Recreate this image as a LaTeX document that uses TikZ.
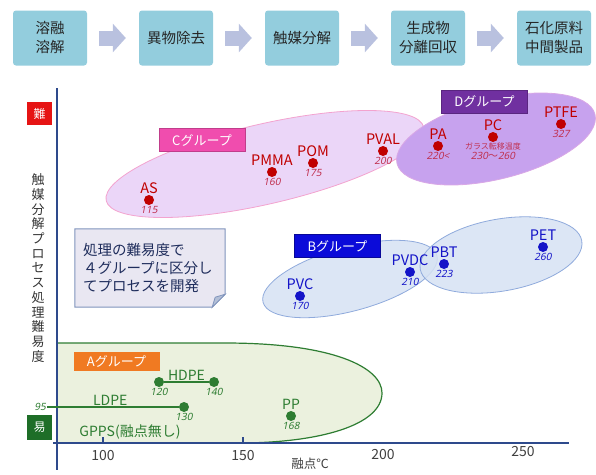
\documentclass[tikz,border=0pt]{standalone}
\usepackage{fontspec}
\setmainfont{Noto Sans CJK JP}
\newfontfamily\numfont[FakeSlant=0.2]{Noto Sans}
\usetikzlibrary{positioning,arrows.meta,shapes.geometric}

\definecolor{stepcol}{HTML}{93CDDD}
\definecolor{flowcol}{HTML}{B9C1DF}
\definecolor{axiscol}{HTML}{2E4A8C}
\definecolor{colA}{HTML}{2E7D32}
\definecolor{colAfill}{HTML}{EBF1DE}
\definecolor{colB}{HTML}{1414C8}
\definecolor{colBfill}{HTML}{D6E2F3}
\definecolor{colBline}{HTML}{8FAADC}
\definecolor{colC}{HTML}{C00000}
\definecolor{colCval}{HTML}{C0304F}
\definecolor{colCfill}{HTML}{EBD6F8}
\definecolor{colCline}{HTML}{F3A3CF}
\definecolor{colDfill}{HTML}{C7A2EE}
\definecolor{colDline}{HTML}{D9A8E6}
\definecolor{boxA}{HTML}{F07A22}
\definecolor{boxB}{HTML}{0B0BD9}
\definecolor{boxC}{HTML}{F04DAE}
\definecolor{boxD}{HTML}{7030A0}
\definecolor{hardcol}{HTML}{E61414}
\definecolor{easycol}{HTML}{1E6E28}
\definecolor{memofill}{HTML}{E9E7F2}
\definecolor{memoline}{HTML}{8094BC}
\definecolor{memotext}{HTML}{1F2D5C}

\begin{document}
\begin{tikzpicture}[x=1pt,y=-1pt,
  stepbox/.style={fill=stepcol, rounded corners=3pt, minimum width=74pt, minimum height=55pt,
    align=center, text=black!85, font=\fontsize{14.5}{19}\selectfont},
  flow/.style={draw=flowcol, line width=15pt, -{Triangle[length=13pt,width=28pt]},
    shorten <=12pt, shorten >=13pt},
  grpbox/.style={minimum width=86pt, minimum height=23pt, inner sep=0pt, text=white,
    font=\fontsize{13}{15}\selectfont},
  dotA/.style={circle, fill=colA, inner sep=0pt, minimum size=10pt},
  dotB/.style={circle, fill=colB, inner sep=0pt, minimum size=10pt},
  dotC/.style={circle, fill=colC, inner sep=0pt, minimum size=10pt},
  nameA/.style={text=colA, inner sep=1pt, font=\fontsize{14}{16}\selectfont},
  nameB/.style={text=colB, inner sep=1pt, font=\fontsize{14.5}{16}\selectfont},
  nameC/.style={text=colC, inner sep=1pt, font=\fontsize{14.5}{16}\selectfont},
  valA/.style={text=colA, inner sep=1pt, font=\numfont\fontsize{10}{12}\selectfont},
  valB/.style={text=colB, inner sep=1pt, font=\numfont\fontsize{10}{12}\selectfont},
  valC/.style={text=colCval, inner sep=1pt, font=\numfont\fontsize{10}{12}\selectfont},
  axis/.style={draw=axiscol, line width=1.3pt},
  ticklbl/.style={text=black!75, font=\fontsize{14}{16}\selectfont}
]
\useasboundingbox (0,0) rectangle (596,474);

% process steps
\node[stepbox] (s1) at (50,38) {溶融\\溶解};
\node[stepbox] (s2) at (176,38) {異物除去};
\node[stepbox] (s3) at (302,38) {触媒分解};
\node[stepbox] (s4) at (428,38) {生成物\\分離回収};
\node[stepbox] (s5) at (554,38) {石化原料\\中間製品};
\draw[flow] (s1) -- (s2);
\draw[flow] (s2) -- (s3);
\draw[flow] (s3) -- (s4);
\draw[flow] (s4) -- (s5);

% group areas
\node[ellipse, fill=colCfill, draw=colCline, line width=0.8pt, inner sep=0pt,
  minimum width=326pt, minimum height=80pt, rotate=13] (areaC) at (265,164) {};
\node[ellipse, fill=colDfill, draw=colDline, line width=0.8pt, inner sep=0pt,
  minimum width=204pt, minimum height=80pt, rotate=14] (areaD) at (496,139) {};
\node[ellipse, fill=colBfill, fill opacity=0.85, draw=colBline, line width=0.8pt, inner sep=0pt,
  minimum width=180pt, minimum height=64pt, rotate=15] (areaB1) at (350,279) {};
\node[ellipse, fill=colBfill, fill opacity=0.85, draw=colBline, line width=0.8pt, inner sep=0pt,
  minimum width=164pt, minimum height=72pt, rotate=10] (areaB2) at (501,255) {};
\draw[fill=colAfill, draw=colA, line width=1.2pt]
  (57,343) -- (225,343) .. controls (335,343) and (382,368) .. (382,393)
  .. controls (382,425) and (320,443) .. (238,443) -- (57,443) -- cycle;

% axes
\draw[axis] (57,88) -- (57,470);
\draw[axis] (53,443) -- (569,443);
\draw[axis] (103,443) -- (103,437);
\draw[axis] (243,443) -- (243,437);
\node[ticklbl] (t100) at (103,455) {100};
\node[ticklbl] (t150) at (243,455) {150};
\node[ticklbl] (t200) at (383,454) {200};
\node[ticklbl] (t250) at (523,451) {250};
\node[ticklbl, font=\fontsize{12.5}{14}\selectfont] (xlabel) at (310,464) {融点℃};
\node[fill=hardcol, text=white, minimum width=25pt, minimum height=23pt, inner sep=0pt,
  font=\fontsize{12}{14}\selectfont] (hard) at (39.5,113.5) {難};
\node[fill=easycol, text=white, minimum width=25pt, minimum height=25pt, inner sep=0pt,
  font=\fontsize{12}{14}\selectfont] (easy) at (39.5,427.5) {易};
\node[align=center, inner sep=0pt, text=black!80, font=\fontsize{13}{14.7}\selectfont] (ylabel) at (38,268)
  {触\\媒\\分\\解\\プ\\ロ\\セ\\ス\\処\\理\\難\\易\\度};

% group titles
\node[grpbox, fill=boxA, minimum height=19pt] (titleA) at (116.5,361) {Aグループ};
\node[grpbox, fill=boxB, draw=boxB!70!black] (titleB) at (337.5,246) {Bグループ};
\node[grpbox, fill=boxC, draw=boxC!80!black] (titleC) at (202,140) {Cグループ};
\node[grpbox, fill=boxD, draw=boxD!80!black] (titleD) at (484.5,101.5) {Dグループ};

% note
\node[minimum width=150pt, minimum height=78pt, inner sep=0pt] (memo) at (150,268) {};
\draw[draw=memoline, line width=1pt, fill=memofill]
  (memo.north west) -- (memo.north east) -- ([yshift=13pt]memo.south east)
  -- ([xshift=-13pt]memo.south east) -- (memo.south west) -- cycle;
\draw[draw=memoline, line width=0.8pt, fill=memoline!60]
  ([yshift=13pt]memo.south east) -- ([xshift=-13pt]memo.south east)
  -- ([xshift=-10pt,yshift=10pt]memo.south east) -- cycle;
\node[text width=134pt, align=left, text=memotext, font=\fontsize{14.5}{18}\selectfont] (memotxt) at (memo)
  {処理の難易度で\\４グループに区分し\\てプロセスを開発};

% C group
\node[dotC] (as) at (149,200) {};
\node[nameC, above=0pt of as] (asname) {AS};
\node[valC, below=0pt of as] (asval) {115};
\node[dotC] (pmma) at (272,172) {};
\node[nameC, above=0pt of pmma] (pmmaname) {PMMA};
\node[valC, below=0pt of pmma] (pmmaval) {160};
\node[dotC] (pom) at (313,163) {};
\node[nameC, above=0pt of pom] (pomname) {POM};
\node[valC, below=0pt of pom] (pomval) {175};
\node[dotC] (pval) at (383,151) {};
\node[nameC, above=0pt of pval] (pvalname) {PVAL};
\node[valC, below=0pt of pval] (pvalval) {200};

% D group
\node[dotC] (pa) at (438,146) {};
\node[nameC, above=0pt of pa] (paname) {PA};
\node[valC, below=0pt of pa] (paval) {220<};
\node[dotC] (pc) at (493,137) {};
\node[nameC, above=0pt of pc] (pcname) {PC};
\node[text=colCval, inner sep=0.5pt, font=\fontsize{8}{9}\selectfont, below=0pt of pc] (pcnote) {ガラス転移温度};
\node[valC, below=0pt of pcnote] (pcval) {230{\rmfamily ～}260};
\node[dotC] (ptfe) at (561,124) {};
\node[nameC, above=0pt of ptfe] (ptfename) {PTFE};
\node[valC, below=0pt of ptfe] (ptfeval) {327};

% B group
\node[dotB] (pvc) at (300,296) {};
\node[nameB, above=0pt of pvc] (pvcname) {PVC};
\node[valB, below=0pt of pvc] (pvcval) {170};
\node[dotB] (pvdc) at (410,272) {};
\node[nameB, above=0pt of pvdc] (pvdcname) {PVDC};
\node[valB, below=0pt of pvdc] (pvdcval) {210};
\node[dotB] (pbt) at (444,264) {};
\node[nameB, above=0pt of pbt] (pbtname) {PBT};
\node[valB, below=0pt of pbt] (pbtval) {223};
\node[dotB] (pet) at (543,247) {};
\node[nameB, above=0pt of pet] (petname) {PET};
\node[valB, below=0pt of pet] (petval) {260};

% A group
\node[dotA] (hdpelo) at (159,382) {};
\node[valA, below=0pt of hdpelo] (hdpeloval) {120};
\node[dotA] (hdpehi) at (214,382) {};
\node[valA, below=0pt of hdpehi] (hdpehival) {140};
\draw[colA, line width=1.2pt] (hdpelo) -- node[nameA, above=0pt] (hdpename) {HDPE} (hdpehi);
\coordinate (l95) at (47,407);
\node[valA, left=0pt of l95] (l95val) {95};
\node[dotA] (ldpe) at (184,407) {};
\node[valA, below=0pt of ldpe] (ldpeval) {130};
\draw[colA, line width=1.2pt] (l95) -- node[nameA, pos=0.48, above=0pt] (ldpename) {LDPE} (ldpe);
\node[dotA] (pp) at (291,416) {};
\node[nameA, above=0pt of pp] (ppname) {PP};
\node[valA, below=0pt of pp] (ppval) {168};
\node[nameA] (gpps) at (130,432) {GPPS(融点無し)};
\end{tikzpicture}
\end{document}
